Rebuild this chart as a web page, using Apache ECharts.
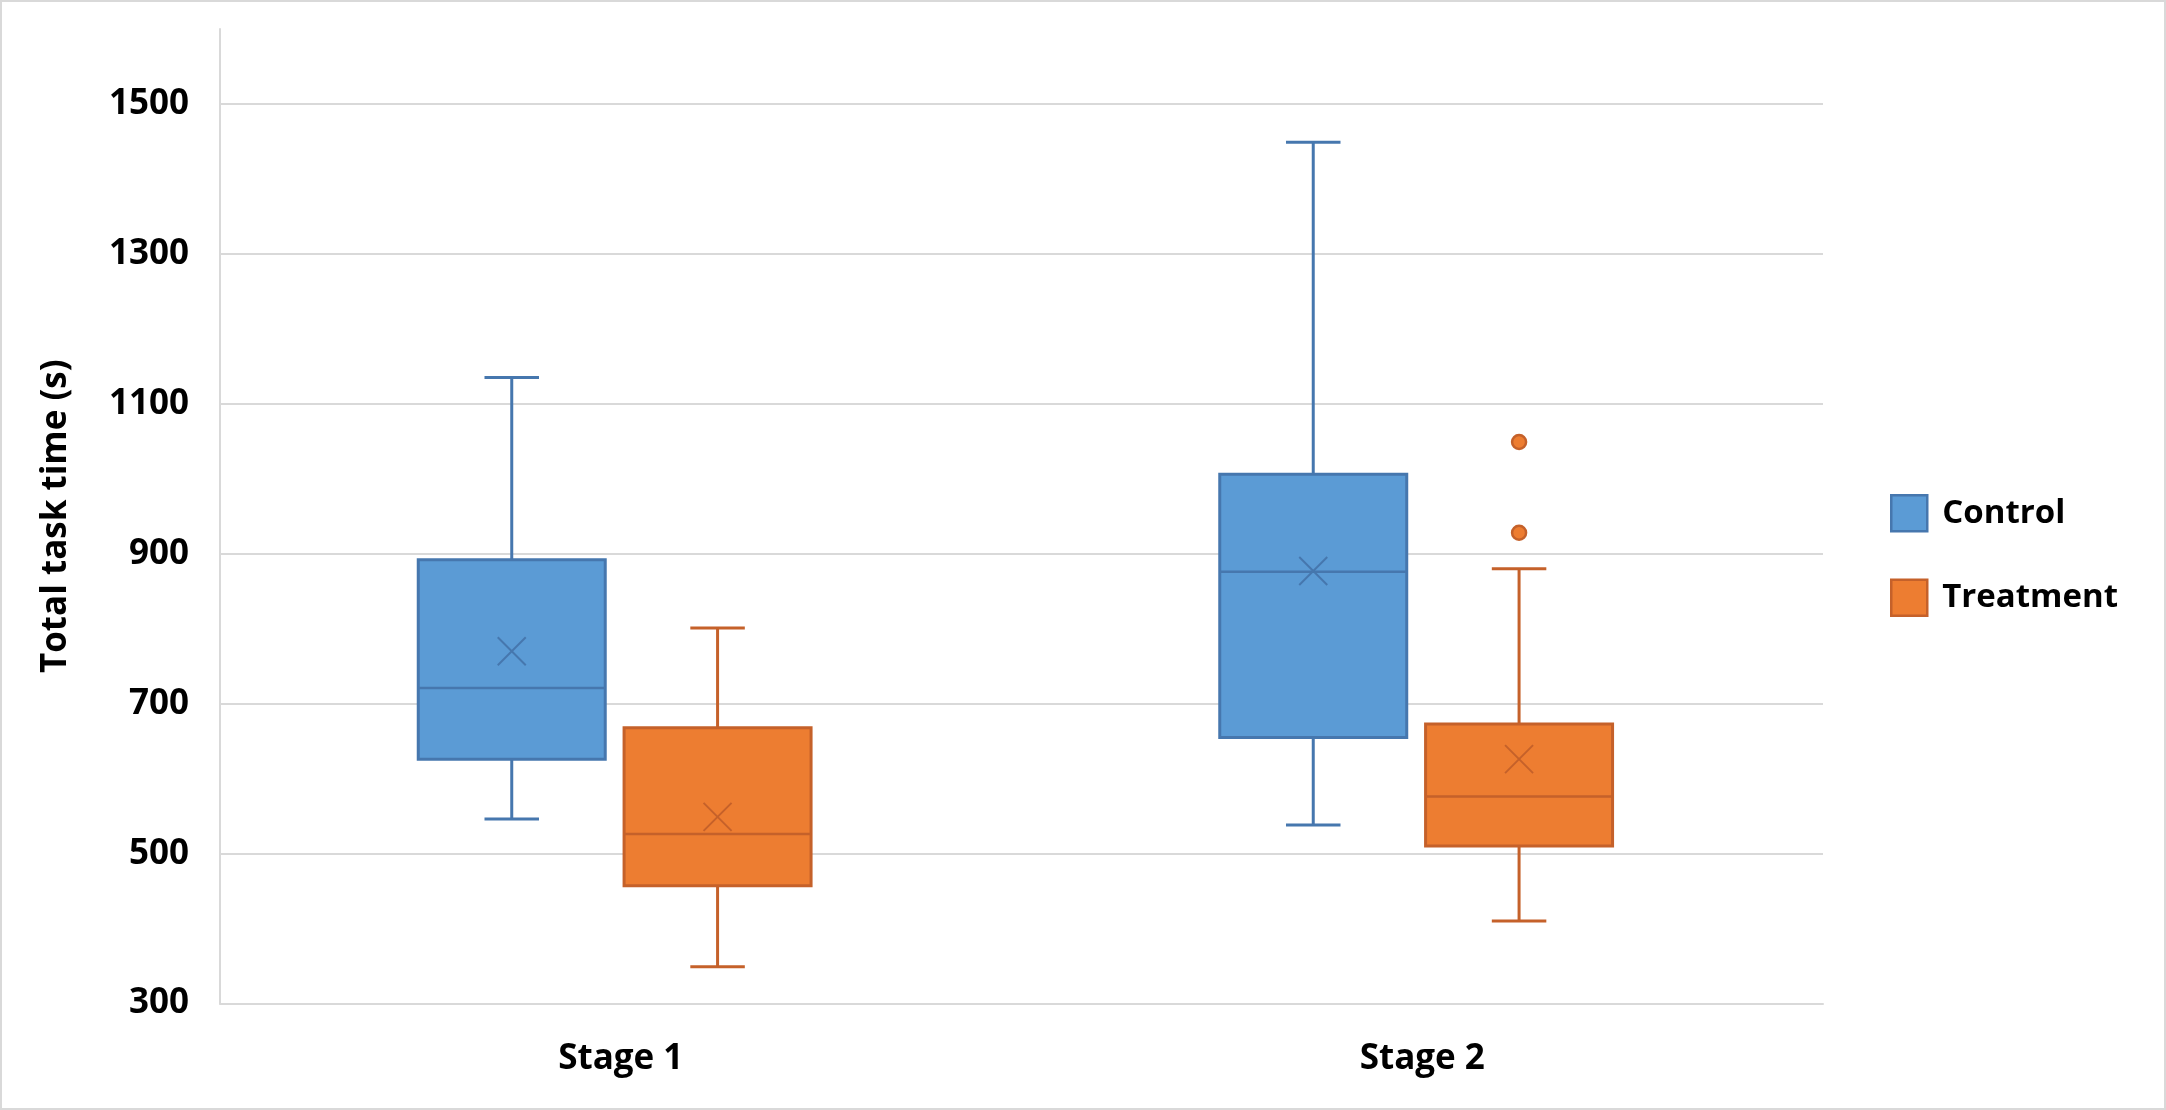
<!DOCTYPE html>
<html>
<head>
<meta charset="utf-8">
<script src="https://cdn.jsdelivr.net/npm/echarts@6/dist/echarts.min.js"></script>
<style>
  html, body { margin: 0; padding: 0; background: #fff; }
  #wrap { position: relative; width: 2166px; height: 1110px; }
  #chart { position: absolute; left: 0; top: 0; width: 2166px; height: 1110px; }
  #frame { position: absolute; left: 0; top: 0; width: 2166px; height: 1110px; box-sizing: border-box; border: 2px solid #d9d9d9; pointer-events: none; }
</style>
</head>
<body>
<div id="wrap"><div id="chart"></div><div id="frame"></div></div>
<script>
// ---- data ----
const categories = ['Stage 1', 'Stage 2'];
const seriesNames = ['Control', 'Treatment'];

const controlMin    = [546, 538];
const controlQ1     = [626, 655];
const controlMedian = [721, 876];
const controlQ3     = [892, 1006];
const controlMax    = [1135, 1449];
const controlMean   = [770, 877];

const treatmentMin    = [349, 410];
const treatmentQ1     = [457, 510];
const treatmentMedian = [526, 576];
const treatmentQ3     = [668, 673];
const treatmentMax    = [801, 880];
const treatmentMean   = [549, 626];

const treatmentOutlierStage = [1, 1];
const treatmentOutlierValue = [1049, 928];

const yTicks = [300, 500, 700, 900, 1100, 1300, 1500];
const yMin = 300, yMax = 1600, yStep = 200;

// ---- styles ----
const FONT = 'Open Sans';
const colors = {
  Control:   { fill: '#5B9BD5', line: '#4677AE' },
  Treatment: { fill: '#ED7D31', line: '#C5612A' }
};
const OFFSET = { Control: -0.136, Treatment: 0.1208 };
const BOX_W = 0.2333, CAP_W = 0.068;

function buildRows(mn, q1, md, q3, mx, mean) {
  return categories.map((c, i) => [i, mn[i], q1[i], md[i], q3[i], mx[i], mean[i]]);
}

function boxRenderer(name) {
  const col = colors[name];
  return function (params, api) {
    const idx = api.value(0);
    const band = api.size([1, 0])[0];
    const cx = api.coord([idx, api.value(3)])[0] + OFFSET[name] * band;
    const y = v => api.coord([idx, v])[1];
    const yMn = y(api.value(1)), yQ1 = y(api.value(2)), yMd = y(api.value(3)),
          yQ3 = y(api.value(4)), yMx = y(api.value(5)), yMean = y(api.value(6));
    const bw = BOX_W * band, cw = CAP_W * band;
    const lineStyle = { stroke: col.line, lineWidth: 3 };
    const xs = 14;
    return {
      type: 'group',
      children: [
        { type: 'line', shape: { x1: cx, y1: yMx, x2: cx, y2: yQ3 }, style: lineStyle },
        { type: 'line', shape: { x1: cx, y1: yQ1, x2: cx, y2: yMn }, style: lineStyle },
        { type: 'line', shape: { x1: cx - cw / 2, y1: yMx, x2: cx + cw / 2, y2: yMx }, style: lineStyle },
        { type: 'line', shape: { x1: cx - cw / 2, y1: yMn, x2: cx + cw / 2, y2: yMn }, style: lineStyle },
        { type: 'rect', shape: { x: cx - bw / 2, y: yQ3, width: bw, height: yQ1 - yQ3 },
          style: { fill: col.fill, stroke: col.line, lineWidth: 3 } },
        { type: 'line', shape: { x1: cx - bw / 2, y1: yMd, x2: cx + bw / 2, y2: yMd },
          style: { stroke: col.line, lineWidth: 2.5 } },
        { type: 'line', shape: { x1: cx - xs, y1: yMean - xs, x2: cx + xs, y2: yMean + xs },
          style: { stroke: col.line, lineWidth: 2 } },
        { type: 'line', shape: { x1: cx - xs, y1: yMean + xs, x2: cx + xs, y2: yMean - xs },
          style: { stroke: col.line, lineWidth: 2 } }
      ]
    };
  };
}

function outlierRenderer(name) {
  const col = colors[name];
  return function (params, api) {
    const idx = api.value(0);
    const band = api.size([1, 0])[0];
    const p = api.coord([idx, api.value(1)]);
    return {
      type: 'circle',
      shape: { cx: p[0] + OFFSET[name] * band, cy: p[1], r: 7 },
      style: { fill: col.fill, stroke: col.line, lineWidth: 2.5 }
    };
  };
}

const chart = echarts.init(document.getElementById('chart'), null, { renderer: 'canvas' });

const splitColors = [];
for (let v = yMin; v <= yMax; v += yStep) splitColors.push('#d9d9d9');
splitColors.push('rgba(0,0,0,0)');

chart.setOption({
  backgroundColor: '#ffffff',
  animation: false,
  grid: { left: 220, right: 343, top: 29, bottom: 106.5, containLabel: false },
  legend: {
    orient: 'vertical',
    left: 1885,
    top: 489,
    itemWidth: 36,
    itemHeight: 36,
    itemGap: 46,
    icon: 'rect',
    textStyle: { fontFamily: FONT, fontWeight: 'bold', fontSize: 33, color: '#000', padding: [0, 0, 0, 10] },
    data: seriesNames.map(n => ({
      name: n,
      icon: 'rect',
      itemStyle: { color: colors[n].fill, borderColor: colors[n].line, borderWidth: 2.5 }
    }))
  },
  xAxis: {
    type: 'category',
    data: categories,
    axisLine: { show: true, lineStyle: { color: '#d9d9d9', width: 2 } },
    axisTick: { show: false },
    axisLabel: { fontFamily: FONT, fontWeight: 'bold', fontSize: 35, color: '#000', margin: 38 },
    splitLine: { show: false }
  },
  yAxis: {
    type: 'value',
    min: yMin,
    max: yMax,
    interval: yStep,
    name: 'Total task time (s)',
    nameLocation: 'middle',
    nameRotate: 90,
    nameGap: 146,
    nameTextStyle: { fontFamily: FONT, fontWeight: 'bold', fontSize: 35, color: '#000' },
    axisLine: { show: true, lineStyle: { color: '#d9d9d9', width: 2 } },
    axisTick: { show: false },
    axisLabel: {
      fontFamily: FONT, fontWeight: 'bold', fontSize: 35, color: '#000', margin: 31,
      formatter: v => (yTicks.indexOf(v) >= 0 ? String(v) : '')
    },
    splitLine: { show: true, lineStyle: { color: splitColors, width: 2 } }
  },
  series: [
    {
      name: 'Control', type: 'custom',
      itemStyle: { color: colors.Control.fill, borderColor: colors.Control.line },
      encode: { x: 0, y: [1, 2, 3, 4, 5, 6] },
      renderItem: boxRenderer('Control'),
      data: buildRows(controlMin, controlQ1, controlMedian, controlQ3, controlMax, controlMean)
    },
    {
      name: 'Treatment', type: 'custom',
      itemStyle: { color: colors.Treatment.fill, borderColor: colors.Treatment.line },
      encode: { x: 0, y: [1, 2, 3, 4, 5, 6] },
      renderItem: boxRenderer('Treatment'),
      data: buildRows(treatmentMin, treatmentQ1, treatmentMedian, treatmentQ3, treatmentMax, treatmentMean)
    },
    {
      name: 'Treatment outliers', type: 'custom',
      encode: { x: 0, y: 1 },
      renderItem: outlierRenderer('Treatment'),
      data: treatmentOutlierStage.map((s, i) => [s, treatmentOutlierValue[i]])
    }
  ]
});
</script>
</body>
</html>
